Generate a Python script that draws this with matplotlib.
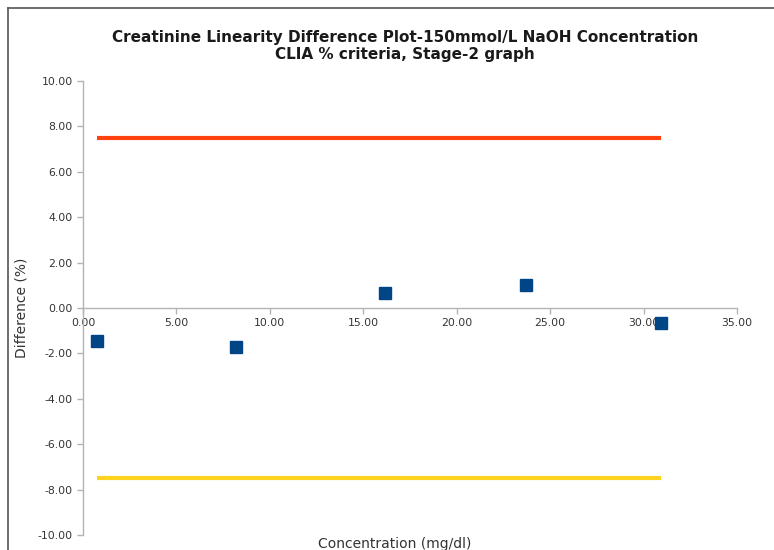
import matplotlib.pyplot as plt
from matplotlib.lines import Line2D

# data
conc = [0.75, 8.2, 16.15, 23.7, 30.95]
diff = [-1.45, -1.70, 0.66, 1.01, -0.66]
upper_limit = 7.5
lower_limit = -7.5

x_ticks = [0, 5, 10, 15, 20, 25, 30, 35]
y_ticks = [-10, -8, -6, -4, -2, 0, 2, 4, 6, 8, 10]

fig = plt.figure(figsize=(7.74, 5.5), dpi=100)
ax = fig.add_axes([83 / 774, 1 - 535 / 550, (737 - 83) / 774, (535 - 81) / 550])

# limit lines span from first to last concentration
ax.plot([conc[0], conc[-1]], [upper_limit, upper_limit], color='#ff420e', lw=3, solid_capstyle='butt')
ax.plot([conc[0], conc[-1]], [lower_limit, lower_limit], color='#ffd320', lw=3, solid_capstyle='butt')
ax.plot(conc, diff, linestyle='none', marker='s', markersize=8, color='#004586')

ax.set_xlim(0, 35)
ax.set_ylim(-10, 10)
ax.set_xticks(x_ticks)
ax.set_yticks(y_ticks)
ax.set_xticklabels(['%.2f' % v for v in x_ticks])
ax.set_yticklabels(['%.2f' % v for v in y_ticks])

for s in ['top', 'right']:
    ax.spines[s].set_visible(False)
ax.spines['bottom'].set_position(('data', 0))
ax.spines['left'].set_position(('data', 0))
for s in ['bottom', 'left']:
    ax.spines[s].set_color('#b3b3b3')
    ax.spines[s].set_linewidth(1)
ax.tick_params(colors='#b3b3b3', labelcolor='#333333', labelsize=7.8, length=4, width=1)

fig.text(405 / 774, 1 - 46 / 550,
         'Creatinine Linearity Difference Plot-150mmol/L NaOH Concentration\nCLIA % criteria, Stage-2 graph',
         ha='center', va='center', fontsize=11, fontweight='bold', color='#1a1a1a', linespacing=1.15)
fig.text(22 / 774, 1 - 308 / 550, 'Difference (%)', rotation=90, ha='center', va='center',
         fontsize=10, color='#333333')
fig.text(395 / 774, 1 - 537 / 550, 'Concentration (mg/dl)', ha='center', va='top',
         fontsize=10, color='#333333')

# frame around the chart (cropped at right and bottom)
fig.add_artist(Line2D([8 / 774, 8 / 774], [0, 1 - 8 / 550], color='#555555', lw=1.2))
fig.add_artist(Line2D([8 / 774, 1], [1 - 8 / 550, 1 - 8 / 550], color='#555555', lw=1.2))

fig.savefig('out.png', dpi=100)
